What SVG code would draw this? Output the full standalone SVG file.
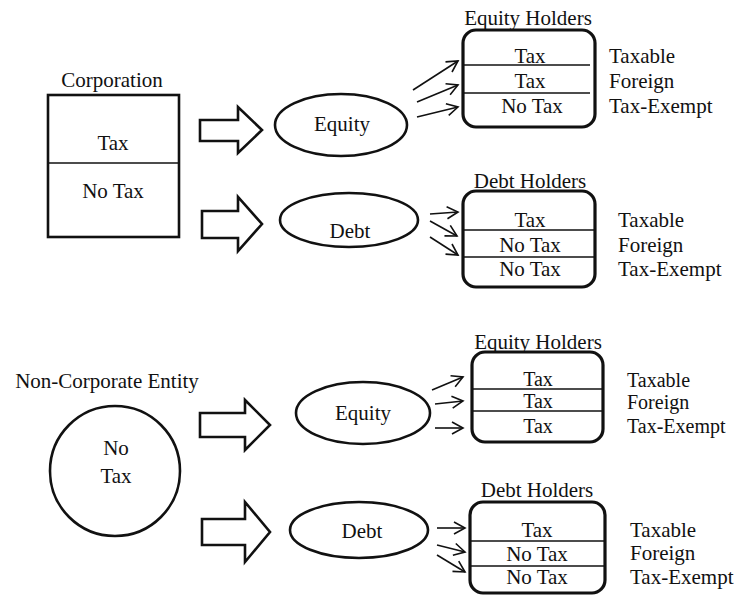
<svg xmlns="http://www.w3.org/2000/svg" width="740" height="604" viewBox="0 0 740 604" font-family="'Liberation Serif', 'DejaVu Serif', serif">
<style>
text{font-family:"Liberation Serif","DejaVu Serif",serif;font-size:21px;fill:#111}
.c{text-anchor:middle}
.sm{font-size:20px}
.shape{fill:#fff;stroke:#111;stroke-width:2.6}
.holder{fill:#fff;stroke:#111;stroke-width:3.2}
.div{stroke:#111;stroke-width:1.6}
.blk{fill:#fff;stroke:#111;stroke-width:2.6;stroke-linejoin:miter}
.ar{stroke:#111;stroke-width:1.6;fill:none;marker-end:url(#v)}
</style>
<defs>
<marker id="v" markerUnits="userSpaceOnUse" markerWidth="16" markerHeight="16" refX="12" refY="7" orient="auto">
<path d="M1,1 L12,7 L1,13" fill="none" stroke="#111" stroke-width="1.6"/>
</marker>
</defs>
<rect width="740" height="604" fill="#fff"/>

<g id="corporation">
<text class="c" x="112" y="87">Corporation</text>
<rect class="shape" x="48" y="95" width="131" height="142"/>
<line class="div" x1="48" y1="163" x2="179" y2="163"/>
<text class="c" x="113" y="150">Tax</text>
<text class="c" x="113" y="198">No Tax</text>
</g>

<g id="equity1">
<ellipse class="shape" cx="341" cy="125" rx="66" ry="31"/>
<text class="c" x="342" y="131">Equity</text>
</g>

<g id="debt1">
<ellipse class="shape" cx="349" cy="220" rx="69" ry="27"/>
<text class="c" x="350" y="238">Debt</text>
</g>

<g id="equityholders1">
<text class="c" x="528" y="25">Equity Holders</text>
<rect class="holder" x="463" y="30" width="132" height="97" rx="13"/>
<line class="div" x1="463" y1="65" x2="590" y2="65"/>
<line class="div" x1="463" y1="93" x2="590" y2="93"/>
<text class="c" x="530" y="63">Tax</text>
<text class="c" x="530" y="88">Tax</text>
<text class="c" x="532" y="113">No Tax</text>
<text x="609" y="63">Taxable</text>
<text x="609" y="88">Foreign</text>
<text x="609" y="113">Tax-Exempt</text>
</g>

<g id="debtholders1">
<text class="c" x="530" y="188">Debt Holders</text>
<rect class="holder" x="463" y="191" width="132" height="96" rx="13"/>
<line class="div" x1="463" y1="230" x2="595" y2="230"/>
<line class="div" x1="463" y1="257" x2="595" y2="257"/>
<text class="c" x="530" y="227">Tax</text>
<text class="c" x="530" y="252">No Tax</text>
<text class="c" x="530" y="276">No Tax</text>
<text x="618" y="227">Taxable</text>
<text x="618" y="252">Foreign</text>
<text x="618" y="276">Tax-Exempt</text>
</g>

<g id="noncorporate">
<text class="c" x="107" y="388">Non-Corporate Entity</text>
<circle class="shape" cx="115" cy="471" r="65"/>
<text class="c" x="116" y="455">No</text>
<text class="c" x="116" y="483">Tax</text>
</g>

<g id="equity2">
<ellipse class="shape" cx="363" cy="413" rx="67" ry="31"/>
<text class="c" x="363" y="420">Equity</text>
</g>

<g id="debt2">
<ellipse class="shape" cx="359" cy="530" rx="69" ry="28"/>
<text class="c" x="362" y="538">Debt</text>
</g>

<g id="equityholders2">
<text class="c" x="538" y="349">Equity Holders</text>
<rect class="holder" x="472" y="352" width="131" height="90" rx="13"/>
<line class="div" x1="472" y1="389" x2="603" y2="389"/>
<line class="div" x1="472" y1="411" x2="603" y2="411"/>
<text class="c sm" x="538" y="386">Tax</text>
<text class="c sm" x="538" y="408">Tax</text>
<text class="c sm" x="538" y="433">Tax</text>
<text class="sm" x="627" y="387">Taxable</text>
<text class="sm" x="627" y="409">Foreign</text>
<text class="sm" x="627" y="433">Tax-Exempt</text>
</g>

<g id="debtholders2">
<text class="c" x="537" y="497">Debt Holders</text>
<rect class="holder" x="470" y="502" width="135" height="91" rx="13"/>
<line class="div" x1="470" y1="541" x2="605" y2="541"/>
<line class="div" x1="470" y1="566" x2="605" y2="566"/>
<text class="c" x="537" y="537">Tax</text>
<text class="c" x="537" y="561">No Tax</text>
<text class="c" x="537" y="584">No Tax</text>
<text x="630" y="537">Taxable</text>
<text x="630" y="560">Foreign</text>
<text x="630" y="584">Tax-Exempt</text>
</g>

<g id="connectors">
<polygon class="blk" points="200,120 238,120 238,107 262,130 238,153 238,141 200,141"/>
<polygon class="blk" points="202,211 238,211 238,197 262,224 238,251 238,238 202,238"/>
<polygon class="blk" points="200,413 245,413 245,400 270,425 245,450 245,437 200,437"/>
<polygon class="blk" points="202,519 245,519 245,502 270,532 245,562 245,545 202,545"/>
<line class="ar" x1="413" y1="90" x2="458" y2="61"/>
<line class="ar" x1="417" y1="102" x2="458" y2="85"/>
<line class="ar" x1="417" y1="117" x2="458" y2="107"/>
<line class="ar" x1="430" y1="214" x2="458" y2="212"/>
<line class="ar" x1="430" y1="221" x2="457" y2="236"/>
<line class="ar" x1="430" y1="237" x2="458" y2="255"/>
<line class="ar" x1="432" y1="390" x2="463" y2="377"/>
<line class="ar" x1="435" y1="404" x2="463" y2="401"/>
<line class="ar" x1="435" y1="428" x2="463" y2="428"/>
<line class="ar" x1="437" y1="528" x2="465" y2="528"/>
<line class="ar" x1="437" y1="545" x2="465" y2="552"/>
<line class="ar" x1="437" y1="555" x2="465" y2="572"/>
</g>
</svg>
